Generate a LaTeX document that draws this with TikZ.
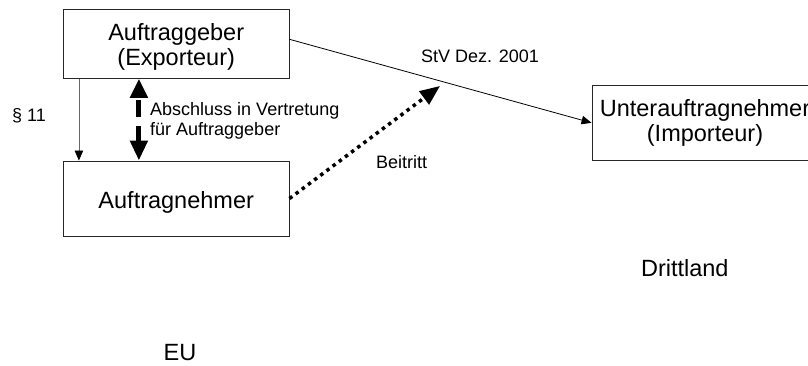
\documentclass[tikz,border=0pt]{standalone}
\usepackage{fontspec}
\setmainfont{Liberation Sans}
\usetikzlibrary{arrows.meta,calc}
\begin{document}
\begin{tikzpicture}[x=1pt,y=1pt,
  box/.style={draw=black!85, line width=0.9pt, inner sep=0pt, align=center, font=\fontsize{23.5}{25}\selectfont},
  big/.style={inner sep=0pt, anchor=base, font=\fontsize{23.5}{25}\selectfont},
  small/.style={inner sep=0pt, anchor=base, font=\fontsize{18}{20}\selectfont},
  thin/.style={line width=0.8pt, -{Triangle[length=10pt,width=8.5pt,color=black]}},
  ]
\clip (0,0) rectangle (808,365);
\fill[white] (0,0) rectangle (808,365);
% boxes
\node[box, minimum width=225.7pt, minimum height=69pt] (a) at (176.2,321.2) {\rule{0pt}{22.3pt}Auftraggeber\\(Exporteur)};
\node[box, minimum width=225.7pt, minimum height=75pt, text height=19.6pt, text depth=0pt] (b) at (176.2,166.5) {Auftragnehmer};
\node[box, minimum width=226pt, minimum height=75.6pt] (c) at (705,242.2) {Unterauftragnehmer\\(Importeur)};
% labels
\node[small] (p11) at (29,243.5) {§ 11};
\node[small, anchor=west, align=left] (abs) at (150,244.6) {Abschluss in Vertretung\\für Auftraggeber};
\node[small] (stv) at (480,302.3) {StV Dez. 2001};
\node[small] (bei) at (401.7,196.7) {Beitritt};
\node[big] (dl) at (684.8,88.3) {Drittland};
\node[big] (eu) at (180,5) {EU};
% connectors
\draw[thin, black!60] ($(a.south west)+(16,0)$) -- ($(b.north west)+(16,0)$);
\draw[line width=5pt, {Triangle[length=19pt,width=17pt]}-{Triangle[length=20pt,width=17pt]}, dash pattern=on 16.7pt off 9.3pt, dash phase=22.3pt] ($(a.south west)+(76,0)$) -- ($(b.north west)+(76,0)$);
\draw[thin] ($(a.east)+(0,4.5)$) -- (c.west);
\coordinate (tip) at (440,279);
\draw[line width=3.5pt, dash pattern=on 3.5pt off 4.2pt, -{Triangle[length=20pt,width=16pt]}] (b.east) -- (tip);
\end{tikzpicture}
\end{document}
